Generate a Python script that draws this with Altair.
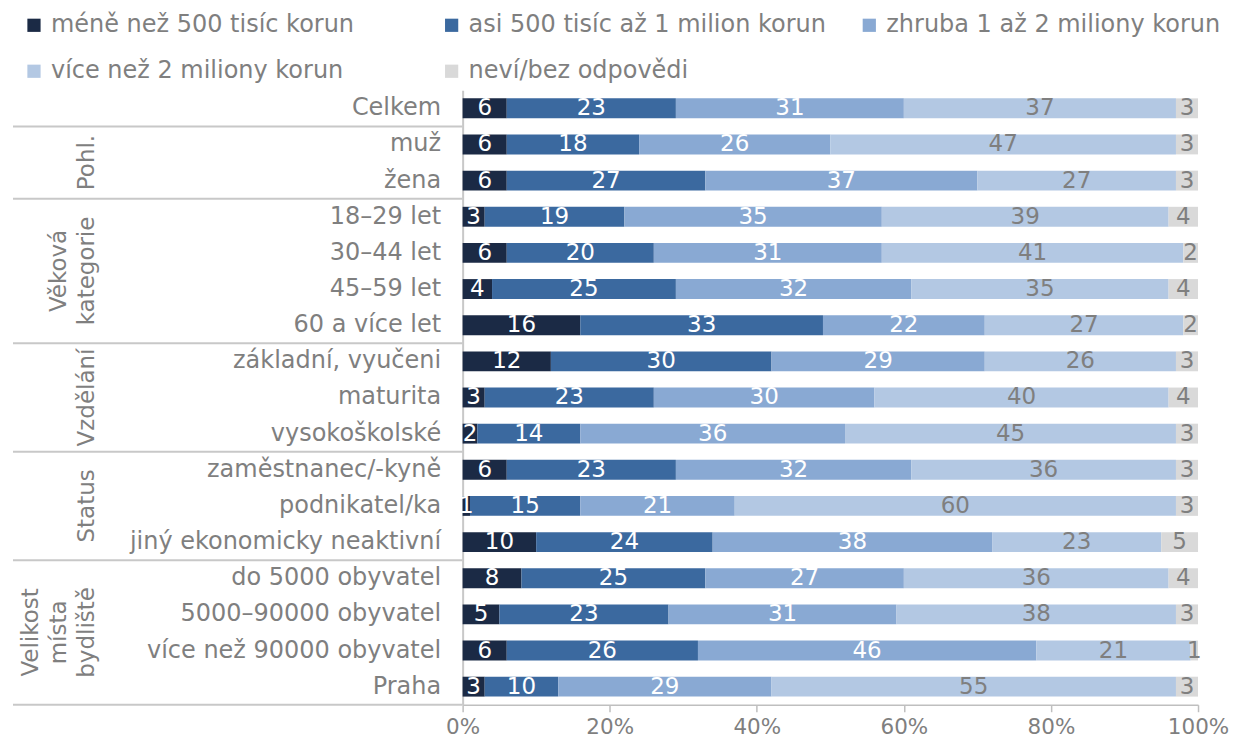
import altair as alt
import pandas as pd

categories = ["Celkem", "muž", "žena", "18–29 let", "30–44 let", "45–59 let",
              "60 a více let", "základní, vyučeni", "maturita", "vysokoškolské",
              "zaměstnanec/-kyně", "podnikatel/ka", "jiný ekonomicky neaktivní",
              "do 5000 obyvatel", "5000–90000 obyvatel", "více než 90000 obyvatel", "Praha"]
series = ["méně než 500 tisíc korun", "asi 500 tisíc až 1 milion korun",
          "zhruba 1 až 2 miliony korun", "více než 2 miliony korun", "neví/bez odpovědi"]
colors = ["#1b2a45", "#3b699f", "#89a9d3", "#b3c8e3", "#d9d9d9"]

v_lt500 = [6, 6, 6, 3, 6, 4, 16, 12, 3, 2, 6, 1, 10, 8, 5, 6, 3]
v_500_1m = [23, 18, 27, 19, 20, 25, 33, 30, 23, 14, 23, 15, 24, 25, 23, 26, 10]
v_1_2m = [31, 26, 37, 35, 31, 32, 22, 29, 30, 36, 32, 21, 38, 27, 31, 46, 29]
v_gt2m = [37, 47, 27, 39, 41, 35, 27, 26, 40, 45, 36, 60, 23, 36, 38, 21, 55]
v_nevi = [3, 3, 3, 4, 2, 4, 2, 3, 4, 3, 3, 3, 5, 4, 3, 1, 3]

# group labels: name, anchor row, whether label sits between two rows
group_names = ["Pohl.", "Věková\nkategorie", "Vzdělání", "Status", "Velikost\nmísta\nbydliště"]
group_anchor = ["muž", "30–44 let", "maturita", "podnikatel/ka", "5000–90000 obyvatel"]
group_between = [True, True, False, False, True]
separators_after = ["Celkem", "žena", "60 a více let", "vysokoškolské",
                    "jiný ekonomicky neaktivní", "Praha"]

vals = [v_lt500, v_500_1m, v_1_2m, v_gt2m, v_nevi]
rows = []
for i, c in enumerate(categories):
    for j, s in enumerate(series):
        rows.append({"cat": c, "series": s, "order": j, "value": vals[j][i]})
df = pd.DataFrame(rows)

grp_df = pd.DataFrame({"cat": group_anchor, "name": group_names, "between": group_between})
grp_df["nlines"] = grp_df["name"].str.count("\n") + 1
sep_df = pd.DataFrame({"cat": separators_after})

FONT = "DejaVu Sans"
GRAY = "#7f7f7f"
LINE = "#c8c8c8"

H = 615
W = 736
step = H / len(categories)
gap_half = 0.225 * step
LH = 28


def yenc(bp=None):
    kw = {}
    if bp is not None:
        kw["bandPosition"] = bp
    return alt.Y("cat:N",
                 scale=alt.Scale(domain=categories, paddingInner=0.45, paddingOuter=0.225),
                 axis=alt.Axis(title=None, ticks=False, labelPadding=22, labelFontSize=24,
                               labelColor=GRAY, labelFont=FONT, labelLimit=600,
                               domainColor=LINE, domainWidth=2),
                 **kw)


base = alt.Chart(df).transform_joinaggregate(
    total="sum(value)", groupby=["cat"]
).transform_calculate(
    pct="datum.value / datum.total"
).transform_stack(
    stack="pct", groupby=["cat"], as_=["x0", "x1"],
    sort=[alt.SortField("order", order="ascending")]
).transform_calculate(
    mid="(datum.x0 + datum.x1) / 2"
)

xscale = alt.Scale(domain=[0, 1], nice=False, zero=False)
xaxis = alt.Axis(title=None, format="%", values=[0, 0.2, 0.4, 0.6, 0.8, 1.0],
                 grid=False, labelFlush=False, tickSize=7, tickWidth=1.5, tickColor="#bfbfbf",
                 domainColor="#bfbfbf", domainWidth=1.5, labelFontSize=21.5,
                 labelColor=GRAY, labelFont=FONT, labelPadding=5)

bars = base.mark_bar(size=step * 0.55).encode(
    x=alt.X("x0:Q", scale=xscale, axis=xaxis),
    x2="x1:Q",
    y=yenc(),
    color=alt.Color("series:N", scale=alt.Scale(domain=series, range=colors),
                    legend=alt.Legend(title=None, orient="none", legendX=-441, legendY=-77,
                                      direction="horizontal", columns=3, gridAlign="all",
                                      padding=0,
                                      symbolType="square", symbolSize=175, symbolStrokeWidth=0,
                                      labelFontSize=24, labelColor=GRAY, labelFont=FONT,
                                      labelOffset=5, rowPadding=22, columnPadding=31,
                                      labelLimit=600)),
    order=alt.Order("order:Q"),
)

labels = base.mark_text(fontSize=23, font=FONT, baseline="middle", align="center").encode(
    x=alt.X("mid:Q", scale=xscale, axis=xaxis),
    y=yenc(),
    text=alt.Text("value:Q"),
    color=alt.condition("datum.order < 3", alt.value("white"), alt.value(GRAY)),
)

seps = alt.Chart(sep_df).mark_rule(color=LINE, strokeWidth=2, yOffset=gap_half).encode(
    x=alt.value(-450), x2=alt.value(0), y=yenc(1),
)

layers = [bars, labels, seps]
for between in [False, True]:
    for n in sorted(grp_df["nlines"].unique()):
        sub = grp_df[(grp_df["between"] == between) & (grp_df["nlines"] == n)]
        if len(sub) == 0:
            continue
        mk = dict(angle=270, align="center", baseline="bottom", fontSize=23, font=FONT,
                  color=GRAY, lineBreak="\n", lineHeight=LH)
        if between:
            mk["yOffset"] = gap_half
        layers.append(
            alt.Chart(sub).mark_text(**mk).encode(
                x=alt.value(-364 - (int(n) - 1) * LH),
                y=yenc(1 if between else 0.5),
                text="name:N",
            )
        )

chart = alt.layer(*layers).properties(
    width=W, height=H,
    padding={"left": 4, "top": 5, "right": 0, "bottom": 0},
).configure_view(stroke=None)

chart.save("out.html", embed_options={"renderer": "svg", "actions": False})
